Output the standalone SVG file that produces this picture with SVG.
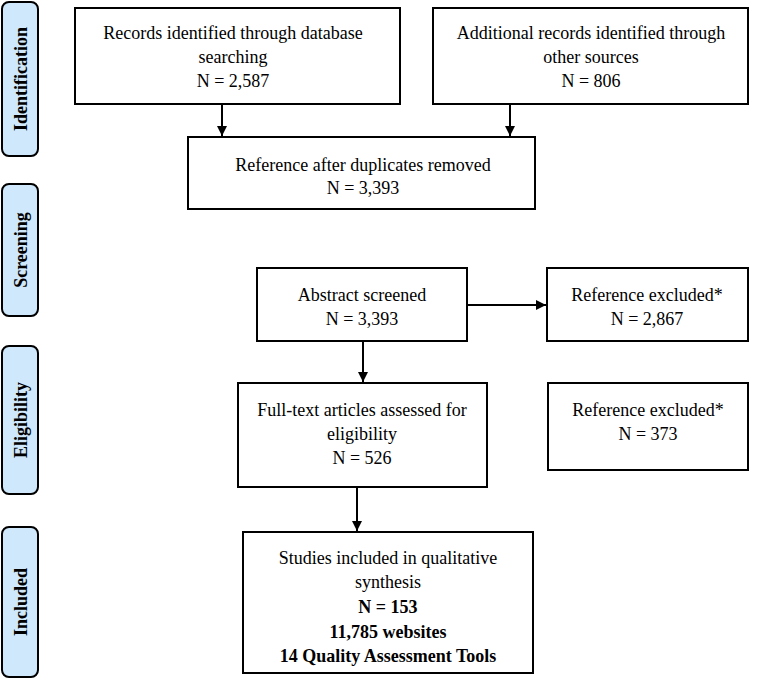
<svg xmlns="http://www.w3.org/2000/svg" width="768" height="680" viewBox="0 0 768 680">
<defs>
<marker id="ah" viewBox="0 0 10 10" refX="10" refY="5" markerWidth="10" markerHeight="10" markerUnits="userSpaceOnUse" orient="auto">
<path d="M0,0 L10,5 L0,10 z" fill="#000"/>
</marker>
</defs>
<style>
.box{fill:#fff;stroke:#000;stroke-width:2}
.phase{fill:#cfe8fb;stroke:#000;stroke-width:2}
.t{font-family:"Liberation Serif","Times New Roman",serif;font-size:18px;fill:#000;text-anchor:middle}
.b{font-weight:bold}
.pt{font-family:"Liberation Serif","Times New Roman",serif;font-size:18px;font-weight:bold;fill:#000;text-anchor:middle}
.c{stroke:#000;stroke-width:2;fill:none;marker-end:url(#ah)}
</style>
<rect width="768" height="680" fill="#fff"/>
<g id="phase-identification"><rect class="phase" x="2" y="2" width="36" height="154" rx="7"/><text class="pt" transform="translate(27,79) rotate(-90)">Identification</text></g>
<g id="phase-screening"><rect class="phase" x="2" y="184" width="36" height="132" rx="7"/><text class="pt" transform="translate(27,250) rotate(-90)">Screening</text></g>
<g id="phase-eligibility"><rect class="phase" x="2" y="346" width="36" height="148" rx="7"/><text class="pt" transform="translate(27,420) rotate(-90)">Eligibility</text></g>
<g id="phase-included"><rect class="phase" x="2" y="527" width="36" height="150" rx="7"/><text class="pt" transform="translate(27,602) rotate(-90)">Included</text></g>

<g id="n-db"><rect class="box" x="75" y="8" width="325" height="96"/>
<text class="t" x="233" y="39">Records identified through database</text>
<text class="t" x="233" y="63">searching</text>
<text class="t" x="233" y="87">N = 2,587</text></g>
<g id="n-other"><rect class="box" x="433" y="8" width="315" height="96"/>
<text class="t" x="591" y="39">Additional records identified through</text>
<text class="t" x="591" y="63">other sources</text>
<text class="t" x="591" y="87">N = 806</text></g>
<g id="n-dup"><rect class="box" x="188" y="137" width="347" height="72"/>
<text class="t" x="363" y="171">Reference after duplicates removed</text>
<text class="t" x="363" y="194">N = 3,393</text></g>
<g id="n-abstract"><rect class="box" x="257" y="268" width="210" height="73"/>
<text class="t" x="362" y="301">Abstract screened</text>
<text class="t" x="362" y="325">N = 3,393</text></g>
<g id="n-excl1"><rect class="box" x="547" y="268" width="201" height="73"/>
<text class="t" x="647" y="301">Reference excluded*</text>
<text class="t" x="647" y="325">N = 2,867</text></g>
<g id="n-fulltext"><rect class="box" x="238" y="383" width="249" height="104"/>
<text class="t" x="362" y="416">Full-text articles assessed for</text>
<text class="t" x="362" y="440">eligibility</text>
<text class="t" x="362" y="464">N = 526</text></g>
<g id="n-excl2"><rect class="box" x="548" y="383" width="200" height="87"/>
<text class="t" x="648" y="416">Reference excluded*</text>
<text class="t" x="648" y="440">N = 373</text></g>
<g id="n-included"><rect class="box" x="243" y="532" width="290" height="141"/>
<text class="t" x="388" y="564">Studies included in qualitative</text>
<text class="t" x="388" y="588">synthesis</text>
<text class="t b" x="388" y="613">N = 153</text>
<text class="t b" x="388" y="638">11,785 websites</text>
<text class="t b" x="388" y="662">14 Quality Assessment Tools</text></g>

<g id="connectors">
<line class="c" x1="222" y1="104" x2="222" y2="136"/>
<line class="c" x1="510" y1="104" x2="510" y2="136"/>
<line class="c" x1="467" y1="305" x2="546" y2="305"/>
<line class="c" x1="363" y1="341" x2="363" y2="382"/>
<line class="c" x1="357" y1="487" x2="357" y2="531"/>
</g>
</svg>
